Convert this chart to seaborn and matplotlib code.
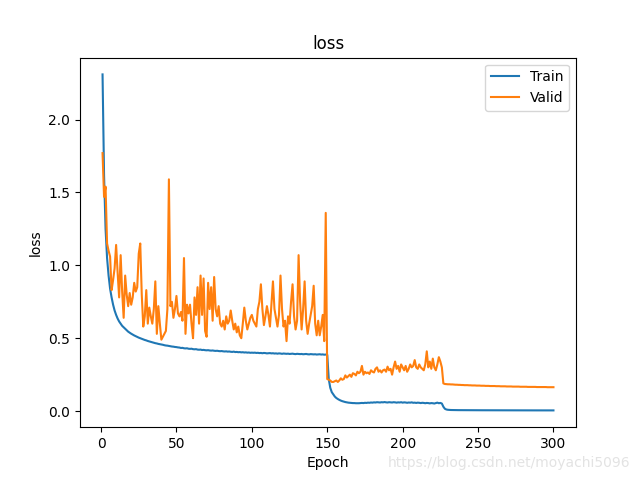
import numpy as np
import matplotlib
matplotlib.use("Agg")
import matplotlib.pyplot as plt
import seaborn as sns

# train loss per epoch
train_1_50 = [
    2.31, 1.62, 1.25, 1.05, 0.93, 0.84, 0.78, 0.73, 0.69, 0.66,
    0.635, 0.615, 0.600, 0.585, 0.575, 0.565, 0.555, 0.545, 0.538, 0.531,
    0.525, 0.519, 0.514, 0.509, 0.504, 0.500, 0.496, 0.492, 0.488, 0.485,
    0.481, 0.478, 0.475, 0.472, 0.469, 0.466, 0.464, 0.461, 0.459, 0.457,
    0.455, 0.452, 0.450, 0.449, 0.447, 0.445, 0.443, 0.442, 0.440, 0.439,
]
train_51_150 = [
    0.437, 0.436, 0.433, 0.434, 0.431, 0.430, 0.431, 0.428, 0.427, 0.428,
    0.425, 0.424, 0.425, 0.422, 0.421, 0.422, 0.419, 0.420, 0.418, 0.417,
    0.418, 0.416, 0.415, 0.416, 0.414, 0.413, 0.414, 0.412, 0.411, 0.412,
    0.410, 0.409, 0.410, 0.408, 0.409, 0.407, 0.406, 0.408, 0.405, 0.406,
    0.404, 0.405, 0.403, 0.404, 0.402, 0.403, 0.401, 0.402, 0.400, 0.401,
    0.400, 0.401, 0.399, 0.400, 0.398, 0.399, 0.397, 0.399, 0.398, 0.396,
    0.397, 0.398, 0.396, 0.397, 0.395, 0.396, 0.394, 0.396, 0.395, 0.393,
    0.395, 0.394, 0.393, 0.394, 0.392, 0.393, 0.394, 0.392, 0.391, 0.393,
    0.392, 0.391, 0.392, 0.390, 0.391, 0.392, 0.390, 0.389, 0.391, 0.390,
    0.389, 0.390, 0.388, 0.389, 0.390, 0.388, 0.389, 0.387, 0.388, 0.386,
]
train_151_226 = [
    0.22, 0.16, 0.13, 0.115, 0.10, 0.09, 0.083, 0.077, 0.072, 0.068,
    0.065, 0.062, 0.060, 0.058, 0.057, 0.056, 0.055, 0.055, 0.054, 0.054,
    0.054, 0.055, 0.056, 0.055, 0.057, 0.056, 0.058, 0.057, 0.059, 0.058,
    0.060, 0.059, 0.061, 0.060, 0.059, 0.061, 0.060, 0.062, 0.060, 0.059,
    0.061, 0.060, 0.059, 0.061, 0.060, 0.058, 0.060, 0.059, 0.061, 0.058,
    0.060, 0.059, 0.057, 0.059, 0.058, 0.060, 0.057, 0.058, 0.056, 0.058,
    0.057, 0.055, 0.057, 0.056, 0.054, 0.056, 0.055, 0.053, 0.055, 0.054,
    0.052, 0.055, 0.058, 0.054, 0.056, 0.052,
]
train_227_300 = [
    0.030, 0.016, 0.011, 0.009, 0.008, 0.0075, 0.0072, 0.0070, 0.0068, 0.0067,
    0.0066, 0.0065, 0.0065, 0.0064, 0.0063, 0.0063, 0.0062, 0.0062, 0.0061, 0.0061,
    0.0060, 0.0060, 0.0059, 0.0059, 0.0059, 0.0058, 0.0058, 0.0057, 0.0057, 0.0057,
    0.0056, 0.0056, 0.0056, 0.0055, 0.0055, 0.0055, 0.0054, 0.0054, 0.0054, 0.0054,
    0.0053, 0.0053, 0.0053, 0.0053, 0.0052, 0.0052, 0.0052, 0.0052, 0.0052, 0.0051,
    0.0051, 0.0051, 0.0051, 0.0051, 0.0050, 0.0050, 0.0050, 0.0050, 0.0050, 0.0050,
    0.0049, 0.0049, 0.0049, 0.0049, 0.0049, 0.0049, 0.0049, 0.0048, 0.0048, 0.0048,
    0.0048, 0.0048, 0.0048, 0.0048,
]

# valid loss per epoch
valid_1_50 = [
    1.77, 1.47, 1.54, 1.15, 1.10, 1.06, 0.83, 0.90, 0.98, 1.14,
    0.95, 0.78, 1.07, 0.82, 0.64, 0.93, 0.80, 0.72, 0.81, 0.73,
    0.78, 0.88, 0.82, 0.85, 1.08, 1.15, 0.80, 0.58, 0.65, 0.83,
    0.60, 0.71, 0.65, 0.60, 0.70, 0.89, 0.53, 0.72, 0.60, 0.49,
    0.51, 0.53, 0.55, 0.70, 1.59, 0.72, 0.75, 0.64, 0.70, 0.79,
]
valid_51_150 = [
    0.67, 0.65, 0.68, 0.62, 1.05, 0.53, 0.73, 0.67, 0.73, 0.60,
    0.50, 0.78, 0.66, 0.85, 0.60, 0.93, 0.66, 0.91, 0.55, 0.51,
    0.88, 0.70, 0.85, 0.62, 0.92, 0.70, 0.65, 0.72, 0.60, 0.58,
    0.62, 0.56, 0.65, 0.60, 0.62, 0.69, 0.62, 0.56, 0.60, 0.54,
    0.58, 0.52, 0.50, 0.60, 0.71, 0.62, 0.56, 0.60, 0.64, 0.66,
    0.62, 0.60, 0.58, 0.70, 0.75, 0.87, 0.70, 0.59, 0.65, 0.72,
    0.66, 0.58, 0.74, 0.89, 0.70, 0.64, 0.58, 0.66, 0.93, 0.70,
    0.58, 0.62, 0.48, 0.65, 0.60, 0.75, 0.87, 0.65, 0.56, 0.62,
    1.07, 0.75, 0.56, 0.70, 0.89, 0.62, 0.53, 0.60, 0.66, 0.72,
    0.86, 0.60, 0.52, 0.62, 0.52, 0.58, 0.66, 0.48, 1.36, 0.22,
]
valid_151_226 = [
    0.215, 0.21, 0.20, 0.20, 0.205, 0.21, 0.20, 0.21, 0.225, 0.215,
    0.22, 0.245, 0.23, 0.24, 0.25, 0.235, 0.26, 0.255, 0.245, 0.27,
    0.26, 0.27, 0.31, 0.25, 0.27, 0.26, 0.265, 0.255, 0.28, 0.27,
    0.265, 0.29, 0.30, 0.27, 0.28, 0.265, 0.28, 0.285, 0.27, 0.305,
    0.28, 0.29, 0.25, 0.30, 0.34, 0.29, 0.31, 0.27, 0.32, 0.30,
    0.28, 0.31, 0.27, 0.29, 0.32, 0.30, 0.31, 0.35, 0.30, 0.29,
    0.32, 0.30, 0.29, 0.28, 0.32, 0.41, 0.30, 0.34, 0.29, 0.36,
    0.30, 0.28, 0.32, 0.37, 0.34, 0.30,
]
valid_227_300 = [
    0.190, 0.186, 0.185, 0.184, 0.184, 0.183, 0.183, 0.182, 0.181, 0.181,
    0.180, 0.180, 0.179, 0.179, 0.178, 0.178, 0.178, 0.177, 0.177, 0.176,
    0.176, 0.176, 0.175, 0.175, 0.175, 0.174, 0.174, 0.174, 0.173, 0.173,
    0.173, 0.172, 0.172, 0.172, 0.172, 0.171, 0.171, 0.171, 0.170, 0.170,
    0.170, 0.170, 0.169, 0.169, 0.169, 0.169, 0.168, 0.168, 0.168, 0.168,
    0.168, 0.167, 0.167, 0.167, 0.167, 0.167, 0.166, 0.166, 0.166, 0.166,
    0.166, 0.166, 0.165, 0.165, 0.165, 0.165, 0.165, 0.165, 0.165, 0.164,
    0.164, 0.164, 0.164, 0.164,
]

train = train_1_50 + train_51_150 + train_151_226 + train_227_300
valid = valid_1_50 + valid_51_150 + valid_151_226 + valid_227_300

fig, ax = plt.subplots(figsize=(6.4, 4.8), dpi=100)
sns.lineplot(x=np.arange(1, len(train) + 1), y=train, color="#1f77b4", lw=1.5, label="Train", ax=ax)
sns.lineplot(x=np.arange(1, len(valid) + 1), y=valid, color="#ff7f0e", lw=1.5, label="Valid", ax=ax)
ax.set_title("loss")
ax.set_xlabel("Epoch")
ax.set_ylabel("loss")
ax.legend(loc="upper right")

# csdn watermark, bottom right
fig.text(0.985, 0.035, "https://blog.csdn.net/moyachi5096", ha="right", va="center",
         fontsize=10, color="#e3e3e3")

fig.savefig("out.png", dpi=100)
